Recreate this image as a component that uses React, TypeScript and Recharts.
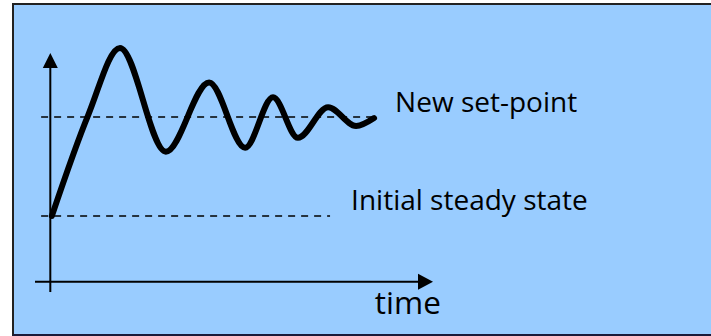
import React from "react";
import { LineChart, Line, XAxis, YAxis, ReferenceLine, ReferenceDot } from "recharts";

// response curve after a set-point step (time, response; 0 = initial, 1 = new set-point)
const times = [0.04, 0.99, 1.82, 3.02, 4.15, 5.09, 5.82, 6.47, 7.26, 7.99, 8.46];
const response = [0, 1.02, 1.7, 0.65, 1.35, 0.69, 1.2, 0.79, 1.1, 0.91, 0.99];

const setPoint = 1;
const initialState = 0;
const labels = ["New set-point", "Initial steady state", "time"];

const data = times.map((t, i) => ({ t, v: response[i] }));

const ink = "#000";
const font = "'Open Sans', sans-serif";

function ArrowRight(props: any) {
  const { cx, cy } = props;
  return <polygon points={`${cx},${cy} ${cx - 15},${cy - 8} ${cx - 15},${cy + 8}`} fill={ink} />;
}

function ArrowUp(props: any) {
  const { cx, cy } = props;
  return <polygon points={`${cx},${cy} ${cx - 7.5},${cy + 15} ${cx + 7.5},${cy + 15}`} fill={ink} />;
}

export default function App() {
  return (
    <div style={{ position: "absolute", left: 0, top: 0, width: 711, height: 336, overflow: "hidden", background: "#fff" }}>
      <div
        style={{
          position: "absolute",
          left: 12,
          top: 3,
          width: 720,
          height: 329,
          background: "#99CCFF",
          borderTop: "2px solid #222",
          borderLeft: "2px solid #222",
          borderBottom: "2px solid #1a1a3a",
        }}
      />
      <div style={{ position: "absolute", left: 0, top: 0 }}>
        <LineChart width={711} height={336} data={data} margin={{ top: 38, right: 278, bottom: 41, left: 35 }}>
          <XAxis type="number" dataKey="t" domain={[-0.4, 10]} hide />
          <YAxis type="number" domain={[-0.8, 1.8]} hide />

          {/* axes */}
          <ReferenceLine segment={[{ x: -0.4, y: -0.667 }, { x: 9.8, y: -0.667 }]} stroke={ink} strokeWidth={2} ifOverflow="visible" />
          <ReferenceLine segment={[{ x: 0, y: -0.77 }, { x: 0, y: 1.5 }]} stroke={ink} strokeWidth={2} ifOverflow="visible" />
          <ReferenceDot x={10} y={-0.667} r={0} shape={ArrowRight} ifOverflow="visible" />
          <ReferenceDot x={0} y={1.648} r={0} shape={ArrowUp} ifOverflow="visible" />

          {/* dashed levels */}
          <ReferenceLine
            segment={[{ x: -0.24, y: setPoint }, { x: 8.5, y: setPoint }]}
            stroke={ink}
            strokeWidth={1.5}
            strokeDasharray="7 6"
            ifOverflow="visible"
          />
          <ReferenceLine
            segment={[{ x: -0.24, y: initialState }, { x: 7.31, y: initialState }]}
            stroke={ink}
            strokeWidth={1.5}
            strokeDasharray="7 6"
            ifOverflow="visible"
          />

          <Line
            type="monotone"
            dataKey="v"
            stroke={ink}
            strokeWidth={6}
            strokeLinecap="round"
            dot={false}
            isAnimationActive={false}
          />

          <ReferenceDot
            x={9.01}
            y={1.15}
            r={0}
            ifOverflow="visible"
            label={{ value: labels[0], position: "right", offset: 0, fill: ink, fontSize: 28, fontFamily: font }}
          />
          <ReferenceDot
            x={7.86}
            y={0.16}
            r={0}
            ifOverflow="visible"
            label={{ value: labels[1], position: "right", offset: 0, fill: ink, fontSize: 28, fontFamily: font }}
          />
          <ReferenceDot
            x={8.48}
            y={-0.881}
            r={0}
            ifOverflow="visible"
            label={{ value: labels[2], position: "right", offset: 0, fill: ink, fontSize: 31.5, fontFamily: font }}
          />
        </LineChart>
      </div>
    </div>
  );
}
